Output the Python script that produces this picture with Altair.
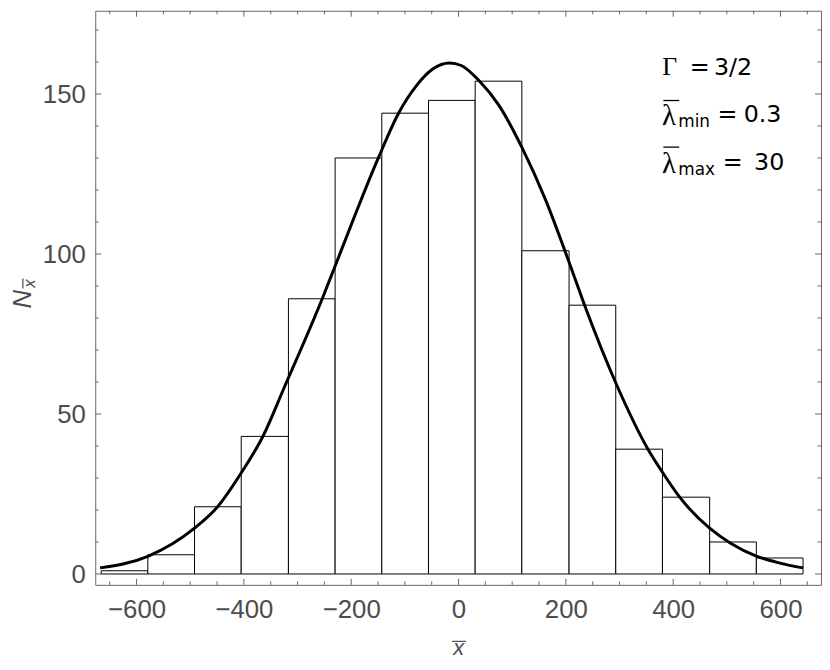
import altair as alt
import pandas as pd

# ---------------- data ----------------
bin_edges = [-666, -579, -492, -405, -317, -230, -143, -56, 31, 118, 206, 293, 380, 468, 555, 642]
counts = [1, 6, 21, 43, 86, 130, 144, 148, 154, 101, 84, 39, 24, 10, 5]

curve_x = [-668, -579, -492, -449, -406, -364, -325, -254, -231, -149, -112, -78, -48,
           -17, 5, 38, 75, 119, 162, 205, 236, 297, 353, 380, 414, 468, 507, 556, 599, 642]
curve_y = [1.9, 5.5, 14.3, 21.0, 31.3, 43.2, 58.2, 86.0, 95.8, 130.2, 143.9, 152.7, 157.8,
           159.7, 158.9, 154.2, 146.5, 133.0, 117.0, 97.9, 83.5, 58.2, 39.0, 31.8, 23.6,
           14.3, 9.6, 5.5, 3.4, 1.9]

x_ticks = [-600, -400, -200, 0, 200, 400, 600]
x_minor = [-650, -550, -500, -450, -350, -300, -250, -150, -100, -50,
           50, 100, 150, 250, 300, 350, 450, 500, 550, 650]
y_ticks = [0, 50, 100, 150]
y_minor = [10, 20, 30, 40, 60, 70, 80, 90, 110, 120, 130, 140, 160, 170]

# ---------------- layout ----------------
W, H = 732, 579
X_DOM = [-677, 675.5]
Y_DOM = [-3.4, 176.0]
FRAME = "#666666"
LABEL = "#4d4d4d"
SANS = "Liberation Sans"
WIDE = "DejaVu Sans"
SERIF = "Liberation Serif"


def vx(px):
    return px - 96


def vy(py):
    return py - 8


xs = alt.Scale(domain=X_DOM, nice=False, zero=False)
ys = alt.Scale(domain=Y_DOM, nice=False, zero=False)

x_axis = alt.Axis(
    values=x_ticks, ticks=False, tickSize=0, domain=False, grid=False, title=None,
    labelFont=SANS, labelFontSize=26, labelColor=LABEL, labelPadding=12,
    labelFlush=False, labelOverlap=False)
y_axis = alt.Axis(
    values=y_ticks, ticks=False, tickSize=0, domain=False, grid=False, title=None,
    labelFont=SANS, labelFontSize=26, labelColor=LABEL, labelPadding=10,
    labelOffset=1, labelFlush=False, labelOverlap=False)

bars_df = pd.DataFrame({"lo": bin_edges[:-1], "hi": bin_edges[1:], "n": counts})
curve_df = pd.DataFrame({"x": curve_x, "y": curve_y})

bars = alt.Chart(bars_df).mark_rect(fill="white", stroke="black", strokeWidth=1).encode(
    x=alt.X("lo:Q", scale=xs, axis=x_axis),
    x2="hi:Q",
    y=alt.Y("n:Q", scale=ys, axis=y_axis),
    y2=alt.datum(0),
)

curve = alt.Chart(curve_df).mark_line(
    color="black", strokeWidth=3, interpolate="monotone", clip=True
).encode(
    x=alt.X("x:Q", scale=xs, axis=x_axis),
    y=alt.Y("y:Q", scale=ys, axis=y_axis),
)


def xtick_layer(vals, length, top):
    df = pd.DataFrame({"v": vals})
    if top:
        yy, yy2 = 0, length
    else:
        yy, yy2 = H, H - length
    return alt.Chart(df).mark_rule(color=FRAME, strokeWidth=1).encode(
        x=alt.X("v:Q", scale=xs, axis=x_axis),
        y=alt.value(yy), y2=alt.value(yy2))


def ytick_layer(vals, length, right):
    df = pd.DataFrame({"v": vals})
    if right:
        xx, xx2 = W, W - length
    else:
        xx, xx2 = 0, length
    return alt.Chart(df).mark_rule(color=FRAME, strokeWidth=1).encode(
        y=alt.Y("v:Q", scale=ys, axis=y_axis),
        x=alt.value(xx), x2=alt.value(xx2))


ticks = [
    xtick_layer(x_ticks, 6, False), xtick_layer(x_minor, 3.5, False),
    xtick_layer(x_ticks, 6, True), xtick_layer(x_minor, 3.5, True),
    ytick_layer(y_ticks, 6, False), ytick_layer(y_minor, 3.5, False),
    ytick_layer(y_ticks, 6, True), ytick_layer(y_minor, 3.5, True),
]

one = pd.DataFrame({"d": [0]})


def label(txt, px, py, size=24, font=WIDE, style="normal", color="black",
          align="left", angle=0):
    return alt.Chart(one).mark_text(
        text=txt, font=font, fontSize=size, fontStyle=style, color=color,
        align=align, baseline="alphabetic", angle=angle
    ).encode(x=alt.value(vx(px)), y=alt.value(vy(py)))


def hline(px1, px2, py, color="black", w=1.3):
    return alt.Chart(one).mark_rule(color=color, strokeWidth=w).encode(
        x=alt.value(vx(px1)), x2=alt.value(vx(px2)), y=alt.value(vy(py)))


def vline(px, py1, py2, color=LABEL, w=1.2):
    return alt.Chart(one).mark_rule(color=color, strokeWidth=w).encode(
        x=alt.value(vx(px)), y=alt.value(vy(py1)), y2=alt.value(vy(py2)))


annotations = [
    # Gamma = 3/2
    label("Γ", 668, 72.5, size=26, font=SERIF),
    label("=", 695.5, 72.5),
    label("3/2", 720, 72.5),
    # lambda_min = 0.3
    label("λ", 667.5, 123.5, size=29, font=SERIF),
    hline(669, 685, 98.5),
    label("min", 684, 125, size=17),
    label("=", 723.5, 120.5),
    label("0.3", 750, 120.5),
    # lambda_max = 30
    label("λ", 667.5, 171.5, size=29, font=SERIF),
    hline(669, 685, 145.5),
    label("max", 684, 173.5, size=17),
    label("=", 729, 168.5),
    label("30", 760.5, 168.5),
    # y title  N_xbar
    label("N", 31.5, 299, size=26, font=SANS, style="italic", color=LABEL,
          align="center", angle=270),
    label("x", 35, 283, size=17, font=SANS, style="italic", color=LABEL,
          align="center", angle=270),
    vline(23, 278, 288),
    # x title  xbar
    label("x", 462.5, 658, size=22, font=SANS, style="italic", color=LABEL, align="center"),
    hline(456, 470, 644, color=LABEL, w=1.2),
]

chart = alt.layer(bars, *ticks, curve, *annotations).properties(
    width=W, height=H,
    autosize=alt.AutoSizeParams(type="none"),
    padding={"left": 88, "top": 0, "right": 1, "bottom": 75},
).configure_view(stroke=FRAME, strokeWidth=1)

chart.save("out.html", embed_options={"renderer": "svg", "actions": False})
